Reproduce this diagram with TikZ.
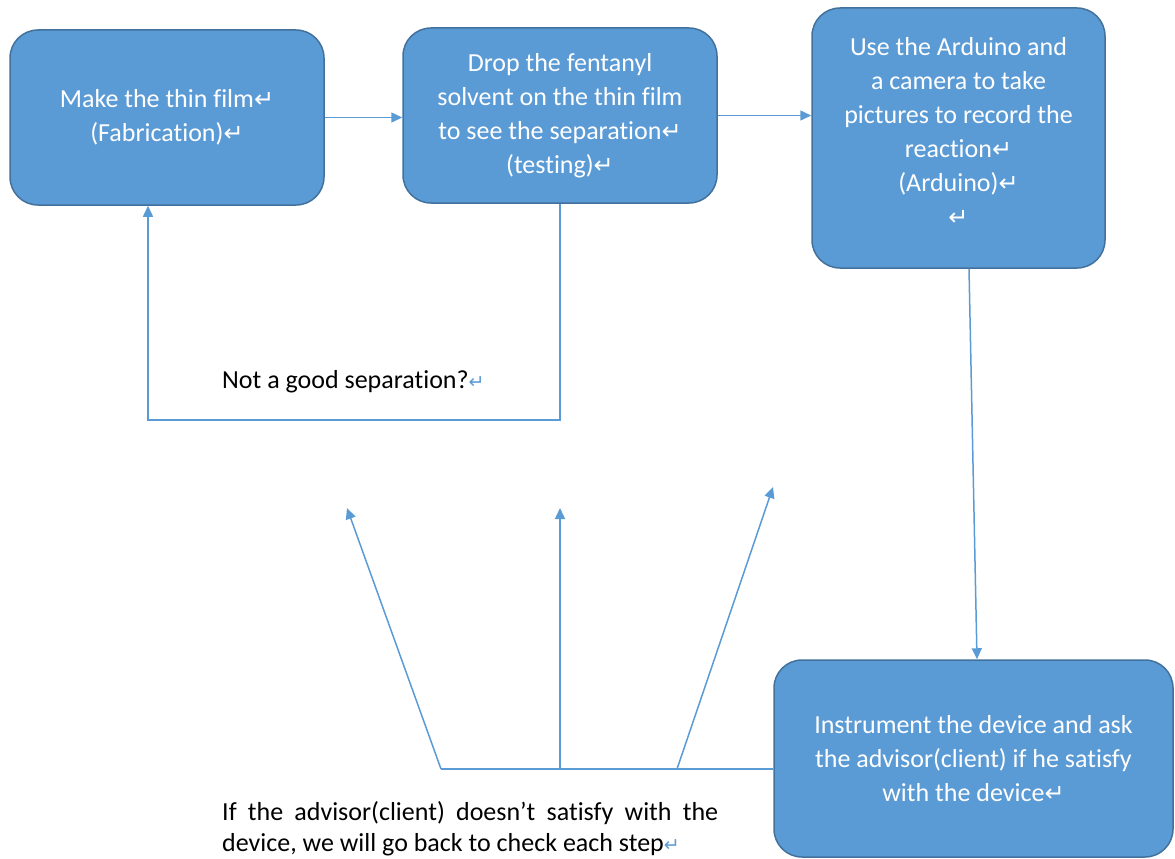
\documentclass[tikz,border=0pt]{standalone}
\usepackage{fontspec}
\setmainfont{Carlito}[Ligatures=NoCommon]
\newfontfamily\markfont{DejaVu Sans}
\usetikzlibrary{arrows.meta}
\definecolor{boxblue}{HTML}{5B9BD5}
\definecolor{edgeblue}{HTML}{41719C}
\newcommand{\retmark}{{\markfont\fontsize{24}{34}\selectfont ↵}}
\newcommand{\retmarktext}{{\color{boxblue}\markfont\fontsize{19}{34}\selectfont ↵}}

\begin{document}
\begin{tikzpicture}[x=1pt, y=-1pt,
  font=\fontsize{26}{34}\selectfont,
  proc/.style={draw=edgeblue, line width=1.5pt, fill=boxblue, rounded corners=28pt,
    text=white, align=center, inner sep=0pt},
  link/.style={draw=boxblue, line width=1.5pt},
  flow/.style={link, -{Triangle[length=11pt,width=10pt]}}]
  \useasboundingbox (0,0) rectangle (1175,859);
  \node[proc, minimum width=314, minimum height=175] (fab) at (167,117.5)
    {Make the thin film\retmark\\(Fabrication)\retmark};
  \node[proc, minimum width=314, minimum height=175] (test) at (560,115.5)
    {Drop the fentanyl\\solvent on the thin film\\to see the separation\retmark\\(testing)\retmark};
  \node[proc, minimum width=293, minimum height=260] (ard) at (958.5,138)
    {Use the Arduino and\\a camera to take\\pictures to record the\\reaction\retmark\\(Arduino)\retmark\\\retmark\rule[-14pt]{0pt}{14pt}};
  \node[proc, minimum width=399, minimum height=197] (inst) at (973.5,758.5)
    {Instrument the device and ask\\the advisor(client) if he satisfy\\with the device\retmark};
  \node[anchor=west, inner sep=0pt] (nogood) at (222,382)
    {Not a good separation?\retmarktext};
  \node[anchor=west, align=left, inner sep=0pt, font=\fontsize{26}{31}\selectfont] (advice) at (222,829)
    {\makebox[496pt][s]{If the advisor(client) doesn’t satisfy with the}\\
     device, we will go back to check each step\retmarktext};

  \draw[flow] (fab.east) -- (fab.east -| test.west);
  \draw[flow] (test.east) -- (test.east -| ard.west);
  \draw[flow] ([xshift=10.5]ard.south) -- ([xshift=3.5]inst.north);

  % loop back when the separation is poor
  \coordinate (loop) at (148,420);
  \draw[flow] (test.south) |- (loop) -- (loop |- fab.south);

  % check each step again
  \coordinate (forkl) at (441,769);
  \coordinate (forkm) at (560,769);
  \coordinate (forkr) at (677,769);
  \coordinate (upl) at (347,508);
  \coordinate (upm) at (560,508);
  \coordinate (upr) at (773,487);
  \draw[link] (inst.west |- forkl) -- (forkl);
  \draw[flow] (forkl) -- (upl);
  \draw[flow] (forkm) -- (upm);
  \draw[flow] (forkr) -- (upr);
\end{tikzpicture}
\end{document}
